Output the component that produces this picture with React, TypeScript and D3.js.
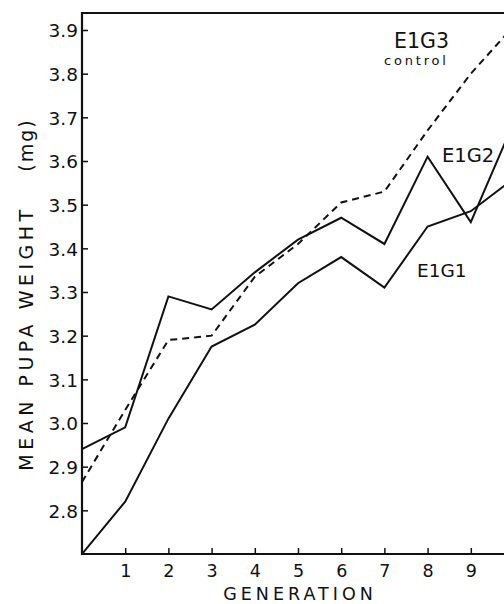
import { useEffect, useRef } from 'react'
import * as d3 from 'd3'

const generations = [0, 1, 2, 3, 4, 5, 6, 7, 8, 9, 10]
const e1g1 = [2.7, 2.82, 3.01, 3.175, 3.225, 3.32, 3.38, 3.31, 3.45, 3.485, 3.56]
const e1g2 = [2.94, 2.99, 3.29, 3.26, 3.345, 3.42, 3.47, 3.41, 3.61, 3.46, 3.69]
const e1g3 = [2.865, 3.03, 3.19, 3.2, 3.335, 3.41, 3.505, 3.53, 3.67, 3.8, 3.91]
const xTicks = [1, 2, 3, 4, 5, 6, 7, 8, 9]
const yTicks = [2.8, 2.9, 3.0, 3.1, 3.2, 3.3, 3.4, 3.5, 3.6, 3.7, 3.8, 3.9]

const W = 504
const H = 604
const FONT = '"DejaVu Sans", sans-serif'

const App = () => {
  const ref = useRef<SVGSVGElement>(null)

  useEffect(() => {
    const svg = d3.select(ref.current)
    svg.selectAll('*').remove()

    const x = d3.scaleLinear().domain([0, 10]).range([82, 514])
    const y = d3.scaleLinear().domain([2.7, 3.9]).range([554, 30])
    const top = 13

    // plot area clip (right side runs off the page)
    svg.append('clipPath').attr('id', 'plot')
      .append('rect').attr('x', 82).attr('y', top).attr('width', W - 82).attr('height', 554 - top)

    const line = d3.line<number>()
      .x((d, i) => x(generations[i]))
      .y(d => y(d))

    const g = svg.append('g').attr('clip-path', 'url(#plot)')
    g.append('path').attr('d', line(e1g3))
      .attr('fill', 'none').attr('stroke', '#111').attr('stroke-width', 2)
      .attr('stroke-dasharray', '7,5')
    g.append('path').attr('d', line(e1g2))
      .attr('fill', 'none').attr('stroke', '#111').attr('stroke-width', 2)
    g.append('path').attr('d', line(e1g1))
      .attr('fill', 'none').attr('stroke', '#111').attr('stroke-width', 2)

    // frame
    svg.append('path')
      .attr('d', `M${W},${top}H82V554H${W}`)
      .attr('fill', 'none').attr('stroke', '#111').attr('stroke-width', 2.2)

    // y axis
    const yAxis = svg.append('g').attr('transform', 'translate(82,0)')
      .call(d3.axisLeft(y).tickValues(yTicks).tickSize(-6).tickPadding(10).tickFormat(d3.format('.1f')))
    yAxis.select('.domain').remove()
    yAxis.selectAll('line').attr('stroke', '#111').attr('stroke-width', 1.5)
    yAxis.selectAll('text').attr('font-family', FONT).attr('font-size', 18.5)
      .attr('fill', '#111').attr('x', -4).attr('dy', '0.36em')

    // x axis
    const xAxis = svg.append('g').attr('transform', 'translate(0,554)')
      .call(d3.axisBottom(x).tickValues(xTicks).tickSize(-6).tickPadding(12))
    xAxis.select('.domain').remove()
    xAxis.selectAll('line').attr('stroke', '#111').attr('stroke-width', 1.5)
    xAxis.selectAll('text').attr('font-family', FONT).attr('font-size', 17.5)
      .attr('fill', '#111').attr('y', 23).attr('dy', 0)

    svg.append('text').text('GENERATION')
      .attr('x', 300).attr('y', 600).attr('text-anchor', 'middle')
      .attr('font-family', FONT).attr('font-size', 17.5).attr('letter-spacing', 4).attr('fill', '#111')

    svg.append('text').text('MEAN PUPA WEIGHT')
      .attr('transform', 'translate(33,338) rotate(-90)').attr('text-anchor', 'middle')
      .attr('font-family', FONT).attr('font-size', 19).attr('letter-spacing', 4.5).attr('fill', '#111')
    svg.append('text').text('(mg)')
      .attr('transform', 'translate(33,145) rotate(-90)').attr('text-anchor', 'middle')
      .attr('font-family', FONT).attr('font-size', 19).attr('letter-spacing', 2).attr('fill', '#111')

    // series labels
    const label = (t: string, px: number, py: number, fs: number, ls = 0) =>
      svg.append('text').text(t).attr('x', px).attr('y', py)
        .attr('font-family', FONT).attr('font-size', fs).attr('letter-spacing', ls).attr('fill', '#111')
    label('E1G3', 394, 48, 20.5)
    label('control', 384, 65, 13, 2.8)
    label('E1G2', 442, 162, 19.5)
    label('E1G1', 417, 277, 18.5)
  }, [])

  return (
    <svg ref={ref} width={W} height={H}
      style={{ position: 'absolute', left: 0, top: 0, background: '#fff' }} />
  )
}

export default App
